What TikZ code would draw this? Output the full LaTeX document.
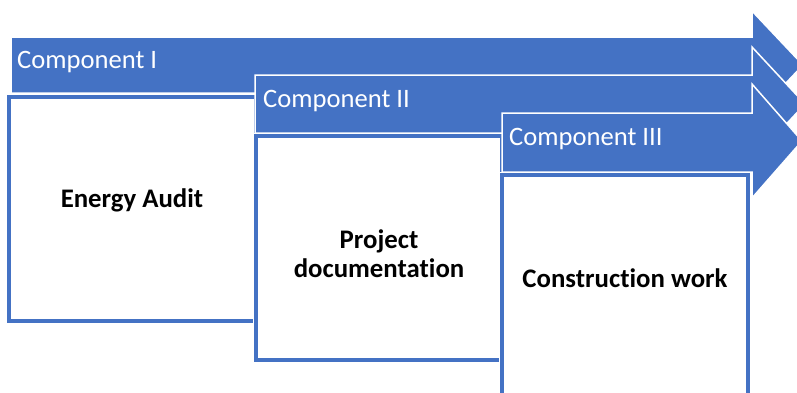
\documentclass[tikz,border=0pt]{standalone}
\usepackage{fontspec}
\setmainfont{Carlito}[Ligatures=NoCommon]
\definecolor{accent}{HTML}{4472C4}
\begin{document}
\begin{tikzpicture}[x=1pt,y=-1pt,
  band/.style={fill=accent,draw=white,line width=1.5pt,line join=miter},
  stagebox/.style={draw=accent,line width=3.5pt},
  boxhalo/.style={draw=white,fill=white,line width=6pt},
  complabel/.style={text=white,font=\fontsize{26.6}{30}\selectfont,anchor=base west,inner sep=0},
  tasklabel/.style={font=\bfseries\fontsize{26.8}{29}\selectfont,align=center,inner sep=0,anchor=base}]
\useasboundingbox (0,0) rectangle (797,392);
\clip (0,0) rectangle (797,392);
% Component I
\draw[band] (11,37) -- (752,37) -- (752,11) -- (803,65) -- (752,119) -- (752,93) -- (11,93) -- cycle;
\node[complabel] (c1) at (17,68) {Component I};
\draw[boxhalo] (9,97) rectangle (256,321);
\draw[stagebox] (9,97) rectangle (256,321);
\node[tasklabel] (t1) at (132,207) {Energy Audit};
% Component II
\draw[band] (255,75) -- (752,75) -- (752,47) -- (805,104) -- (752,161) -- (752,133) -- (255,133) -- cycle;
\node[complabel] (c2) at (263,107) {Component II};
\draw[boxhalo] (256,136) rectangle (502,360);
\draw[stagebox] (256,136) rectangle (502,360);
\node[tasklabel] (t2) at (379,277) {Project\\documentation};
% Component III
\draw[band] (502,113) -- (752,113) -- (752,84) -- (802,141) -- (752,198) -- (752,172) -- (502,172) -- cycle;
\node[complabel] (c3) at (509,145) {Component III};
\draw[boxhalo] (502,175) rectangle (748,405);
\draw[stagebox] (502,175) rectangle (748,405);
\node[tasklabel] (t3) at (625,287) {Construction work};
\end{tikzpicture}
\end{document}
